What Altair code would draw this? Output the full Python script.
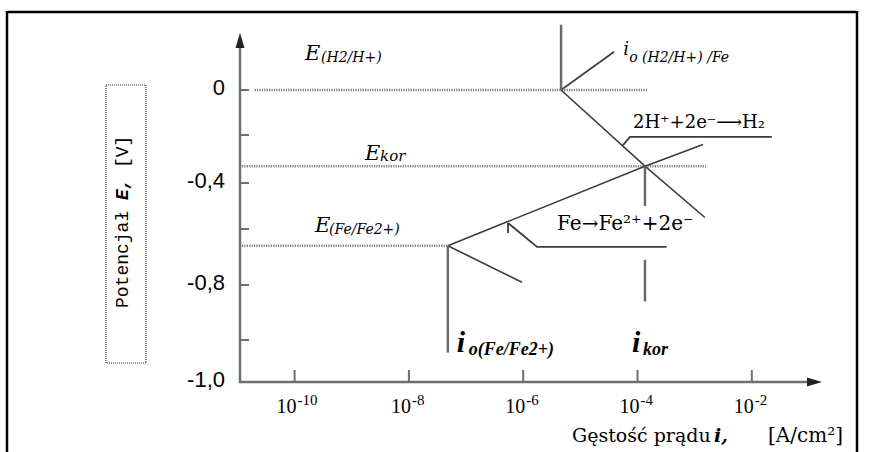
import altair as alt
import pandas as pd

# ---------------------------------------------------------------
# Evans diagram for iron corroding in acid (potential E [V] vs.
# log current density i [A/cm2])
# ---------------------------------------------------------------

# characteristic potentials [V]
E_H2 = 0.0      # equilibrium potential H2/H+
E_KOR = -0.33   # corrosion potential
E_FE = -0.66    # equilibrium potential Fe/Fe2+

# characteristic current densities [A/cm2]
I0_H2 = 4.6e-6   # exchange current density H2/H+ on Fe
I0_FE = 4.8e-8   # exchange current density Fe/Fe2+
I_KOR = 1.35e-4  # corrosion current density

# polarisation (Tafel) lines as (i, E) vertices
TAFEL = {
    "H2 cathodic": [(I0_H2, E_H2), (I_KOR, E_KOR), (1.51e-3, -0.55)],
    "Fe anodic": [(I0_FE, E_FE), (I_KOR, E_KOR), (1.40e-3, -0.24)],
    "H2 anodic": [(I0_H2, E_H2), (3.9e-5, 0.17)],
    "Fe cathodic": [(I0_FE, E_FE), (9.5e-7, -0.79)],
}
# vertical markers of the exchange / corrosion current densities
MARKERS = {
    "i0 H2": [(I0_H2, 0.29), (I0_H2, E_H2)],
    "i0 Fe": [(I0_FE, E_FE), (I0_FE, -0.93)],
    "ikor upper": [(I_KOR, E_KOR), (I_KOR, -0.50)],
    "ikor lower": [(I_KOR, -0.71), (I_KOR, -0.83)],
}
# dotted potential levels
LEVELS = {
    "E H2": [(2.0e-11, E_H2), (1.48e-4, E_H2)],
    "E kor": [(1.2e-11, E_KOR), (1.58e-3, E_KOR)],
    "E Fe": [(1.2e-11, E_FE), (I0_FE, E_FE)],
}
# leader lines of the reaction labels
LEADERS = {
    "H2 label": [(5.57e-5, -0.242), (7.38e-5, -0.208), (2.24e-2, -0.208)],
    "Fe label": [(5.43e-7, -0.574), (1.75e-6, -0.664), (3.24e-4, -0.664)],
    "Fe hook": [(5.43e-7, -0.574), (5.43e-7, -0.614)],
}

# axis ticks and labels
Y_TICKS = [0.0, -0.2, -0.4, -0.6, -0.8, -0.9]
Y_LABEL_VALUES = [0.0, -0.4, -0.8, -1.0]
Y_LABELS = ["0", "-0,4", "-0,8", "-1,0"]
X_EXPONENTS = [-10, -8, -6, -4, -2]
X_EXP_LABELS = ["-10", "-8", "-6", "-4", "-2"]


def segments(groups, kind):
    rows = []
    for name, pts in groups.items():
        for k, (i, e) in enumerate(pts):
            rows.append({"seg": name, "k": k, "i": i, "E": e, "kind": kind})
    return rows


seg_df = pd.DataFrame(
    segments(TAFEL, "tafel")
    + segments(MARKERS, "marker")
    + segments(LEVELS, "level")
    + segments(LEADERS, "leader")
)
ytick_df = pd.DataFrame({"E": Y_TICKS})
ylab_df = pd.DataFrame({"E": Y_LABEL_VALUES, "label": Y_LABELS})
xlab_df = pd.DataFrame({
    "i": [10.0 ** e for e in X_EXPONENTS],
    "base": ["10"] * len(X_EXPONENTS),
    "exp": X_EXP_LABELS,
})
one = pd.DataFrame({"o": [0]})

# scales: logarithmic current density, hand-drawn (piecewise) potential axis
XS = alt.Scale(type="log", domain=[10 ** -10.955, 10 ** -0.807], nice=False)
YS = alt.Scale(
    type="linear",
    domain=[-1.0, -0.9, -0.8, -0.6, -0.4, -0.2, 0.0, 0.311],
    range=[362, 320, 265, 209, 163, 115, 70, 0],
    nice=False,
    zero=False,
)

AX = "#6f6f6f"
SERIF = "DejaVu Serif, Liberation Serif, serif"
TIMES = "Liberation Serif, serif"


def xq(field="i"):
    return alt.X(f"{field}:Q", scale=XS, axis=None)


def yq(field="E"):
    return alt.Y(f"{field}:Q", scale=YS, axis=None)


def xd(v):
    return alt.XDatum(v, scale=XS, type="quantitative", axis=None)


def yd(v):
    return alt.YDatum(v, scale=YS, type="quantitative", axis=None)


def lines(kind, color, width, dash=None):
    props = dict(color=color, strokeWidth=width, strokeCap="butt", strokeJoin="miter")
    if dash:
        props["strokeDash"] = dash
    return (
        alt.Chart(seg_df)
        .transform_filter(alt.datum.kind == kind)
        .mark_line(**props)
        .encode(x=xq(), y=yq(), detail="seg:N", order="k:O")
    )


def text(s, x, y, size, font=SERIF, style="normal", weight="normal",
         align="left", baseline="alphabetic", dx=0, dy=0, angle=0):
    return alt.Chart(one).mark_text(
        text=s, font=font, fontSize=size, fontStyle=style, fontWeight=weight,
        align=align, baseline=baseline, dx=dx, dy=dy, angle=angle, color="black",
    ).encode(x=x, y=y)


layers = []

# outer frame
frame = dict(color="black", strokeWidth=2.5)
layers += [
    alt.Chart(one).mark_rule(**frame).encode(x=alt.value(-233), x2=alt.value(617), y=alt.value(-8)),
    alt.Chart(one).mark_rule(**frame).encode(x=alt.value(-233), y=alt.value(-9), y2=alt.value(440)),
    alt.Chart(one).mark_rule(**frame).encode(x=alt.value(617), y=alt.value(-9), y2=alt.value(440)),
]

# curves
layers += [
    lines("level", "#7a7a7a", 2.4, [1.2, 1.2]),
    lines("tafel", "#3c3c3c", 1.6),
    lines("marker", "#6a6a6a", 2.5),
    lines("leader", "#3a3a3a", 1.8),
]

# axes with arrows and inward ticks
layers += [
    alt.Chart(one).mark_rule(color=AX, strokeWidth=2.5).encode(x=alt.value(0), y=alt.value(18), y2=alt.value(363)),
    alt.Chart(one).mark_rule(color=AX, strokeWidth=2.5).encode(x=alt.value(-1), x2=alt.value(570), y=alt.value(362)),
    alt.Chart(one).mark_point(shape="M0,-1L0.6,1L-0.6,1Z", filled=True, size=225, color="#222", opacity=1)
    .encode(x=alt.value(0), y=alt.value(20.5)),
    alt.Chart(one).mark_point(shape="M1,0L-1,-0.6L-1,0.6Z", filled=True, size=225, color="#222", opacity=1)
    .encode(x=alt.value(574.5), y=alt.value(362)),
    alt.Chart(ytick_df).mark_rule(color=AX, strokeWidth=2).encode(y=yq(), x=alt.value(0), x2=alt.value(9)),
    alt.Chart(xlab_df).mark_rule(color=AX, strokeWidth=2).encode(x=xq(), y=alt.value(350), y2=alt.value(362)),
]

# tick labels
layers += [
    alt.Chart(ylab_df).mark_text(font="Liberation Sans", fontSize=22, align="right",
                                 baseline="middle", dx=-15, dy=-2, color="black")
    .encode(y=yq(), x=alt.value(0), text="label:N"),
    alt.Chart(xlab_df).mark_text(font=TIMES, fontSize=20, align="right",
                                 baseline="alphabetic", dx=2, color="black")
    .encode(x=xq(), y=alt.value(393), text="base:N"),
    alt.Chart(xlab_df).mark_text(font=TIMES, fontSize=15, align="left",
                                 baseline="alphabetic", dx=3, color="black")
    .encode(x=xq(), y=alt.value(385), text="exp:N"),
]

# axis titles
layers += [
    alt.Chart(one).mark_rect(fillOpacity=0, stroke="#333", strokeWidth=1.2, strokeDash=[1, 1])
    .encode(x=alt.value(-134), x2=alt.value(-94), y=alt.value(65), y2=alt.value(343)),
    text("Potencjał", alt.value(-117), alt.value(288), 18, font="Liberation Mono",
         baseline="middle", angle=270),
    text("E,", alt.value(-117), alt.value(288), 18, font="Liberation Mono", style="italic",
         weight="bold", baseline="middle", angle=270, dx=108),
    text("[V]", alt.value(-117), alt.value(288), 18, font="Liberation Mono",
         baseline="middle", angle=270, dx=140),
    text("Gęstość prądu", alt.value(332), alt.value(422), 19),
    text("i,", alt.value(474), alt.value(422), 19, style="italic", weight="bold"),
    text("[A/cm²]", alt.value(603), alt.value(422), 20, align="right"),
]

# potential labels
layers += [
    text("E", xd(1.52e-10), yd(E_H2), 21, style="italic", dy=-30),
    text("(H2/H+)", xd(1.52e-10), yd(E_H2), 14, style="italic", dx=16, dy=-28),
    text("E", xd(1.71e-9), yd(E_KOR), 21, style="italic", dy=-6),
    text("kor", xd(1.71e-9), yd(E_KOR), 15, style="italic", dx=15, dy=-5),
    text("E", xd(2.28e-10), yd(E_FE), 21, style="italic", dy=-14),
    text("(Fe/Fe2+)", xd(2.28e-10), yd(E_FE), 14, style="italic", dx=14, dy=-12),
    text("i", xd(3.9e-5), yd(0.17), 18, style="italic", dx=9, dy=3),
    text("o (H2/H+) /Fe", xd(3.9e-5), yd(0.17), 14, style="italic", dx=15, dy=10),
]

# reaction labels
layers += [
    text("2H⁺+2e⁻⟶H₂", xd(7.38e-5), yd(-0.208), 18, dx=3, dy=-9),
    text("Fe→Fe²⁺+2e⁻", xd(1.75e-6), yd(-0.664), 20, dx=20, dy=-17),
]

# current density labels
layers += [
    text("i", xd(I0_FE), yd(-0.93), 30, font=TIMES, style="italic", weight="bold", dx=9, dy=-1),
    text("o(Fe/Fe2+)", xd(I0_FE), yd(-0.93), 18, font=TIMES, style="italic", weight="bold", dx=21, dy=2),
    text("i", xd(I_KOR), yd(-0.93), 30, font=TIMES, style="italic", weight="bold", dx=-13, dy=-1),
    text("kor", xd(I_KOR), yd(-0.93), 18, font=TIMES, style="italic", weight="bold", dx=-2, dy=2),
]

chart = (
    alt.layer(*layers)
    .properties(
        width=580,
        height=362,
        padding={"left": 240, "top": 20, "right": 53, "bottom": 70},
        autosize=alt.AutoSizeParams(type="none"),
        background="white",
    )
    .configure_view(strokeWidth=0)
)

chart.save("out.html", embed_options={"renderer": "svg", "actions": False})
